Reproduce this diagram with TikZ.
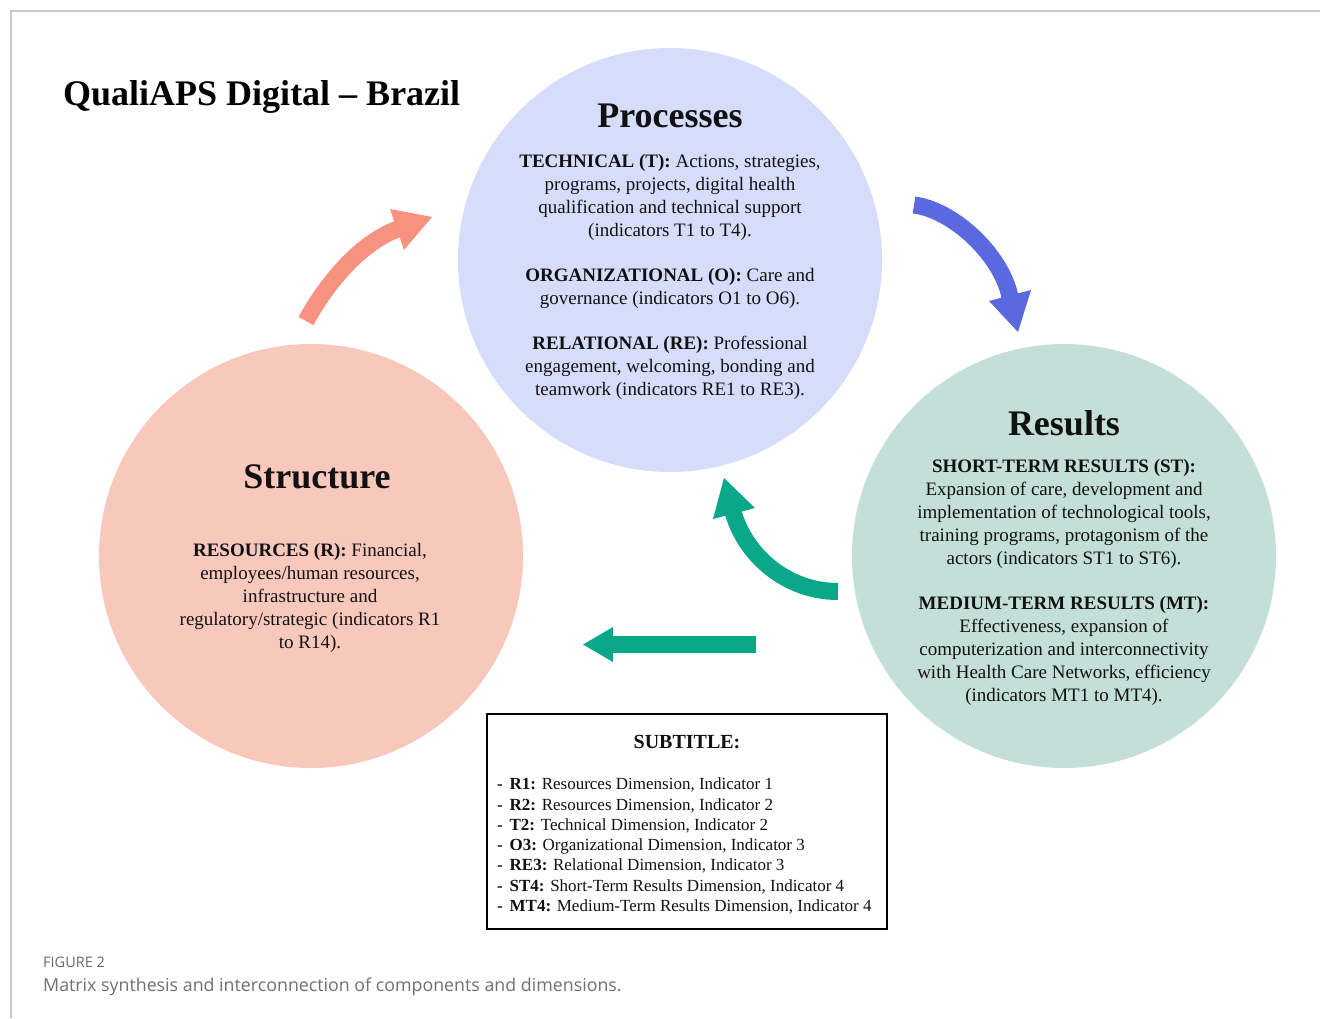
\documentclass[tikz,border=0pt]{standalone}
\usepackage{fontspec}
\setmainfont{Liberation Serif}
\newfontfamily\capfont{Open Sans}
\definecolor{procfill}{HTML}{D6DDFB}
\definecolor{strucfill}{HTML}{F9C8BC}
\definecolor{resfill}{HTML}{C3DFD7}
\definecolor{salmonarrow}{HTML}{F89280}
\definecolor{bluearrow}{HTML}{5B69E0}
\definecolor{greenarrow}{HTML}{0BA789}
\definecolor{framegrey}{HTML}{C8C8C8}
\definecolor{capgrey}{HTML}{707070}
\definecolor{inktext}{HTML}{111111}
\begin{document}
\begin{tikzpicture}[x=1pt,y=-1pt,
  blob/.style={circle, draw=none, inner sep=0pt, minimum size=424pt},
  heading/.style={font=\fontsize{36}{40}\selectfont\bfseries, anchor=base, inner sep=0pt, text=inktext},
  body/.style={font=\fontsize{19}{23}\selectfont, align=center, inner sep=0pt, text=inktext},
  shaft/.style={line width=17pt, line cap=butt},
  legendline/.style={font=\fontsize{17}{20.3}\selectfont, align=left, inner sep=0pt, text=inktext}
]
\useasboundingbox (0,0) rectangle (1320,1018);
\fill[white] (0,0) rectangle (1320,1018);

% page frame
\draw[framegrey, line width=1.5pt] (11,1018) -- (11,11) -- (1320,11);

% the three components
\node[blob, fill=procfill] (proc) at (670,260) {};
\node[blob, fill=strucfill] (struc) at (311,556) {};
\node[blob, fill=resfill] (res) at (1064,556) {};

% title
\node[font=\fontsize{36}{40}\selectfont\bfseries, anchor=base west, inner sep=0pt, text=black] (title) at (63,105) {QualiAPS Digital -- Brazil};

% headings
\node[heading] (proch) at (670,127) {Processes};
\node[heading] (struch) at (317,488) {Structure};
\node[heading] (resh) at (1064,435) {Results};

% texts
\node[body] (proct) at (670,277) {%
\textbf{TECHNICAL (T):} Actions, strategies,\\
programs, projects, digital health\\
qualification and technical support\\
(indicators T1 to T4).\\[22pt]
\textbf{ORGANIZATIONAL (O):} Care and\\
governance (indicators O1 to O6).\\[22pt]
\textbf{RELATIONAL (RE):} Professional\\
engagement, welcoming, bonding and\\
teamwork (indicators RE1 to RE3).};

\node[body] (struct) at (310,598) {%
\textbf{RESOURCES (R):} Financial,\\
employees/human resources,\\
infrastructure and\\
regulatory/strategic (indicators R1\\
to R14).};

\node[body] (rest) at (1064,582) {%
\textbf{SHORT-TERM RESULTS (ST):}\\
Expansion of care, development and\\
implementation of technological tools,\\
training programs, protagonism of the\\
actors (indicators ST1 to ST6).\\[22pt]
\textbf{MEDIUM-TERM RESULTS (MT):}\\
Effectiveness, expansion of\\
computerization and interconnectivity\\
with Health Care Networks, efficiency\\
(indicators MT1 to MT4).};

% arrows: structure -> processes
\coordinate (a1s) at (306,321);
\coordinate (a1e) at (398,229);
\draw[salmonarrow, shaft] (a1s) .. controls (325,286) and (359,243) .. (a1e);
\fill[salmonarrow] (390,209) -- (432,217) -- (404,250) -- cycle;

% processes -> results
\coordinate (a2s) at (914,205);
\coordinate (a2e) at (1010,297);
\draw[bluearrow, shaft] (a2s) .. controls (954,210) and (1002,256) .. (a2e);
\fill[bluearrow] (989,301) -- (1018,332) -- (1031,290) -- cycle;

% results -> processes
\coordinate (a3s) at (838,591.5);
\coordinate (a3e) at (733,512);
\draw[greenarrow, shaft] (a3s) .. controls (788,591.5) and (746,557) .. (a3e);
\fill[greenarrow] (713,519) -- (724,478) -- (755,508) -- cycle;

% results -> structure
\coordinate (a4s) at (756,644.5);
\coordinate (a4e) at (612,644.5);
\draw[greenarrow, shaft] (a4s) -- (a4e);
\fill[greenarrow] (613,627) -- (583,644.5) -- (613,662) -- cycle;

% legend
\node[draw=black, line width=1.2pt, minimum width=400pt, minimum height=215pt, inner sep=0pt] (legend) at (687,821.5) {};
\node[font=\fontsize{20}{24}\selectfont\bfseries, inner sep=0pt, text=inktext] (legendh) at (687,742) {SUBTITLE:};
\node[legendline, anchor=west] (legendl) at (497,846) {%
\textbf{-}\hspace{0.4em}\textbf{R1:} Resources Dimension, Indicator 1\\
\textbf{-}\hspace{0.4em}\textbf{R2:} Resources Dimension, Indicator 2\\
\textbf{-}\hspace{0.4em}\textbf{T2:} Technical Dimension, Indicator 2\\
\textbf{-}\hspace{0.4em}\textbf{O3:} Organizational Dimension, Indicator 3\\
\textbf{-}\hspace{0.4em}\textbf{RE3:} Relational Dimension, Indicator 3\\
\textbf{-}\hspace{0.4em}\textbf{ST4:} Short-Term Results Dimension, Indicator 4\\
\textbf{-}\hspace{0.4em}\textbf{MT4:} Medium-Term Results Dimension, Indicator 4};

% caption
\node[font=\capfont\fontsize{14.5}{17}\selectfont, text=capgrey!95!black, anchor=base west, inner sep=0pt] (figlabel) at (43,967) {FIGURE 2};
\node[font=\capfont\fontsize{17.8}{21}\selectfont, text=capgrey, anchor=base west, inner sep=0pt] (figcap) at (43,991) {Matrix synthesis and interconnection of components and dimensions.};
\end{tikzpicture}
\end{document}
